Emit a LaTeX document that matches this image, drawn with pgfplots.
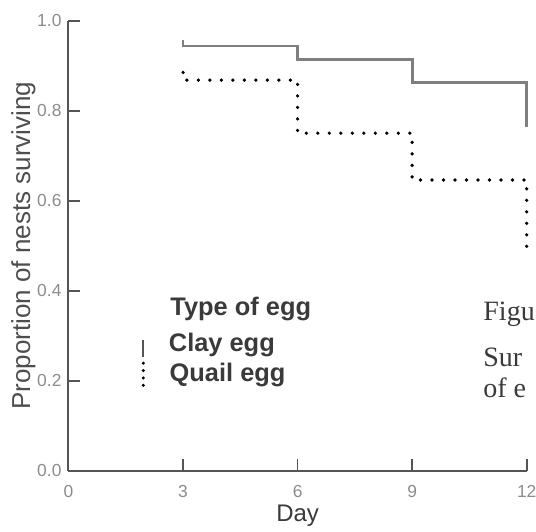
\documentclass[border=0pt]{standalone}
\usepackage{fontspec}
\setmainfont{Liberation Sans}
\newfontfamily\capfont{Liberation Serif}
\usepackage{pgfplots}
\pgfplotsset{compat=1.18}
\definecolor{axisgray}{HTML}{555555}
\definecolor{tickgray}{HTML}{8C8C8C}
\definecolor{claygray}{HTML}{7F7F7F}
\definecolor{textdark}{HTML}{3A3A3A}
\definecolor{ylabgray}{HTML}{4E4E4E}
\begin{document}
\begin{tikzpicture}
\useasboundingbox (0,0) rectangle (268pt,-265.5pt);
\clip (0,0) rectangle (268pt,-265.5pt);
\begin{axis}[
  at={(34.25pt,-235.35pt)}, anchor=south west,
  scale only axis, width=229.1pt, height=225pt,
  xmin=0, xmax=12, ymin=0, ymax=1,
  axis x line*=bottom, axis y line*=left,
  axis line style={draw=axisgray, line width=1pt},
  xtick={0,3,6,9,12}, ytick={0,0.2,0.4,0.6,0.8,1.0},
  yticklabel style={/pgf/number format/fixed, /pgf/number format/precision=1, /pgf/number format/fixed zerofill},
  xticklabel style={yshift=-4pt},
  /pgf/number format/assume math mode=true,
  tick align=inside, major tick length=5.8pt,
  tick style={draw=axisgray, line width=0.8pt},
  ticklabel style={font=\fontsize{8.7}{10}\selectfont, text=tickgray},
  xlabel={Day}, ylabel={Proportion of nests surviving},
  xlabel style={at={(axis description cs:0.5,-0.1133)}, anchor=base, font=\fontsize{12}{14}\selectfont, text=textdark},
  ylabel style={at={(axis description cs:-0.084,0.5)}, anchor=base, font=\fontsize{13}{15}\selectfont, text=ylabgray},
  clip=false,
]
\addplot[const plot, draw=claygray, line width=1.4pt] coordinates {(3,0.957)(3,0.944)(6,0.913)(9,0.863)(12,0.764)};
\addplot[const plot, draw=black, line width=1.8pt, line cap=round, dash pattern=on 0pt off 5.75pt] coordinates {(3,0.885)(3,0.868)(6,0.750)(9,0.646)(12,0.485)};
\node[anchor=base west, inner sep=0pt, font=\bfseries\fontsize{12.7}{15}\selectfont, text=textdark] at (axis cs:2.66,0.346) {Type of egg};
\node[anchor=base west, inner sep=0pt, font=\bfseries\fontsize{12.7}{15}\selectfont, text=textdark] at (axis cs:2.62,0.2644) {Clay egg};
\node[anchor=base west, inner sep=0pt, font=\bfseries\fontsize{12.7}{15}\selectfont, text=textdark] at (axis cs:2.64,0.1978) {Quail egg};
\draw[draw=axisgray, line width=1.1pt] (axis cs:1.96,0.290) -- (axis cs:1.96,0.2526);
\draw[draw=black, line width=1.7pt, line cap=round, dash pattern=on 0pt off 3.7pt] (axis cs:1.96,0.239) -- (axis cs:1.96,0.186);
\end{axis}
\node[anchor=base west, inner sep=0pt, font=\capfont\fontsize{14}{16}\selectfont, text=textdark] at (241.5pt,-160pt) {Figu};
\node[anchor=base west, inner sep=0pt, font=\capfont\fontsize{14}{16}\selectfont, text=textdark] at (241.5pt,-183.35pt) {Sur};
\node[anchor=base west, inner sep=0pt, font=\capfont\fontsize{14}{16}\selectfont, text=textdark] at (241.5pt,-198.5pt) {of e};
\end{tikzpicture}
\end{document}
